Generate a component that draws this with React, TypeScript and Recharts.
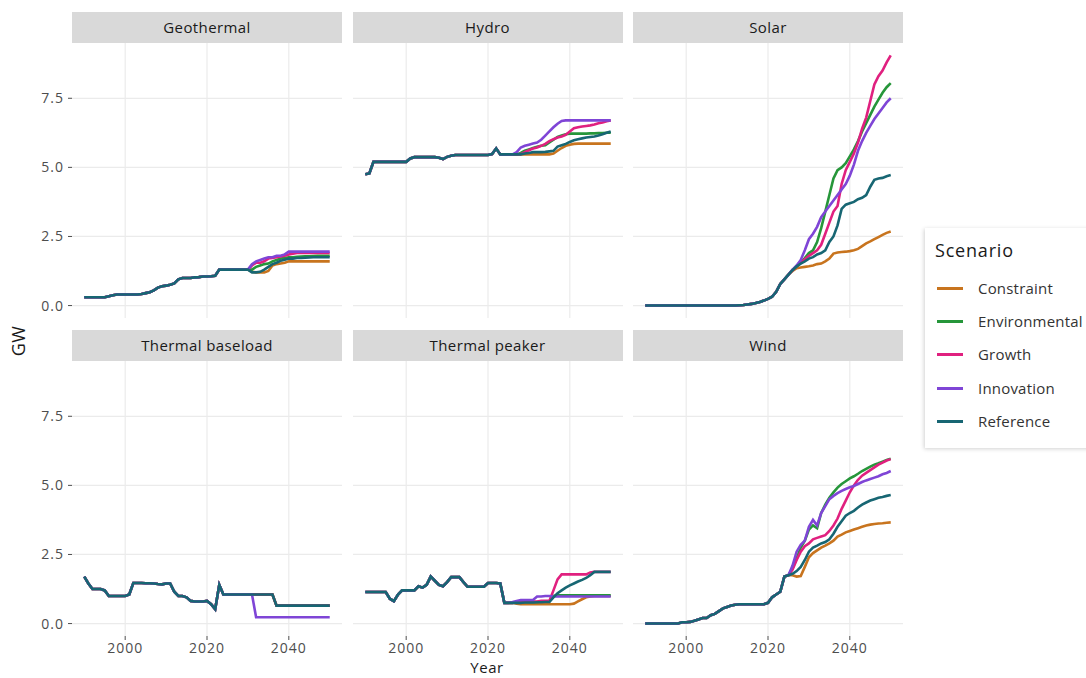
import React from 'react';
import { LineChart, Line, XAxis, YAxis, CartesianGrid } from 'recharts';

// x categories: 1990..2050, one point per year
const YEARS = [
  1990, 1991, 1992, 1993, 1994, 1995, 1996, 1997, 1998, 1999,
  2000, 2001, 2002, 2003, 2004, 2005, 2006, 2007, 2008, 2009,
  2010, 2011, 2012, 2013, 2014, 2015, 2016, 2017, 2018, 2019,
  2020, 2021, 2022, 2023, 2024, 2025, 2026, 2027, 2028, 2029,
  2030, 2031, 2032, 2033, 2034, 2035, 2036, 2037, 2038, 2039,
  2040, 2041, 2042, 2043, 2044, 2045, 2046, 2047, 2048, 2049, 2050,
];

const SCENARIOS = ['Constraint', 'Environmental', 'Growth', 'Innovation', 'Reference'];
const COLORS = ['#c8741e', '#26963a', '#e0207f', '#7f45d6', '#176673'];

const X_TICKS = [2000, 2020, 2040];
const Y_TICKS = [0, 2.5, 5, 7.5];

// shared history 1990-2025, then one array per scenario for 2026-2050

// Geothermal
const geoHist = [
  0.3, 0.3, 0.3, 0.3, 0.3, 0.3, 0.34, 0.37, 0.4, 0.4,
  0.4, 0.4, 0.4, 0.4, 0.42, 0.45, 0.48, 0.55, 0.65, 0.7,
  0.72, 0.75, 0.8, 0.95, 1.0, 1.0, 1.0, 1.02, 1.03, 1.05,
  1.05, 1.06, 1.08, 1.3, 1.3, 1.3,
];
const geoConstraint = [1.3, 1.3, 1.3, 1.3, 1.3, 1.22, 1.2, 1.2, 1.2, 1.25, 1.45, 1.5, 1.52, 1.55, 1.6, 1.6, 1.6, 1.6, 1.6, 1.6, 1.6, 1.6, 1.6, 1.6, 1.6];
const geoEnvironmental = [1.3, 1.3, 1.3, 1.3, 1.3, 1.3, 1.4, 1.45, 1.5, 1.52, 1.6, 1.65, 1.7, 1.72, 1.75, 1.75, 1.76, 1.77, 1.78, 1.78, 1.79, 1.8, 1.8, 1.8, 1.8];
const geoGrowth = [1.3, 1.3, 1.3, 1.3, 1.3, 1.45, 1.55, 1.55, 1.6, 1.7, 1.72, 1.75, 1.78, 1.8, 1.85, 1.88, 1.9, 1.9, 1.9, 1.9, 1.9, 1.9, 1.9, 1.9, 1.9];
const geoInnovation = [1.3, 1.3, 1.3, 1.3, 1.3, 1.5, 1.6, 1.65, 1.7, 1.75, 1.75, 1.8, 1.8, 1.85, 1.95, 1.95, 1.95, 1.95, 1.95, 1.95, 1.95, 1.95, 1.95, 1.95, 1.95];
const geoReference = [1.3, 1.3, 1.3, 1.3, 1.3, 1.2, 1.2, 1.22, 1.3, 1.4, 1.5, 1.55, 1.62, 1.66, 1.7, 1.7, 1.72, 1.72, 1.73, 1.74, 1.75, 1.75, 1.75, 1.75, 1.75];

// Hydro
const hydroHist = [
  4.75, 4.78, 5.2, 5.2, 5.2, 5.2, 5.2, 5.2, 5.2, 5.2,
  5.2, 5.32, 5.37, 5.37, 5.37, 5.37, 5.37, 5.37, 5.35, 5.3,
  5.38, 5.42, 5.45, 5.45, 5.45, 5.45, 5.45, 5.45, 5.45, 5.45,
  5.45, 5.48, 5.68, 5.47, 5.47, 5.47,
];
const hydroConstraint = [5.47, 5.47, 5.47, 5.47, 5.47, 5.47, 5.47, 5.47, 5.47, 5.47, 5.5, 5.6, 5.7, 5.78, 5.82, 5.85, 5.86, 5.86, 5.86, 5.86, 5.86, 5.86, 5.86, 5.86, 5.86];
const hydroEnvironmental = [5.47, 5.47, 5.52, 5.6, 5.65, 5.7, 5.75, 5.78, 5.8, 5.9, 6.0, 6.1, 6.15, 6.2, 6.22, 6.22, 6.22, 6.22, 6.22, 6.23, 6.23, 6.24, 6.24, 6.25, 6.25];
const hydroGrowth = [5.47, 5.47, 5.48, 5.55, 5.62, 5.68, 5.72, 5.78, 5.85, 5.95, 6.02, 6.08, 6.12, 6.18, 6.3, 6.42, 6.45, 6.48, 6.5, 6.52, 6.55, 6.6, 6.62, 6.67, 6.7];
const hydroInnovation = [5.47, 5.55, 5.72, 5.78, 5.82, 5.86, 5.9, 6.0, 6.15, 6.3, 6.45, 6.58, 6.68, 6.7, 6.7, 6.7, 6.7, 6.7, 6.7, 6.7, 6.7, 6.7, 6.7, 6.7, 6.7];
const hydroReference = [5.47, 5.47, 5.47, 5.5, 5.52, 5.55, 5.55, 5.55, 5.56, 5.58, 5.6, 5.75, 5.8, 5.85, 5.92, 5.98, 6.02, 6.05, 6.08, 6.1, 6.12, 6.15, 6.2, 6.25, 6.3];

// Solar
const solarHist = [
  0, 0, 0, 0, 0, 0, 0, 0, 0, 0,
  0, 0, 0, 0, 0, 0, 0, 0, 0, 0,
  0, 0, 0, 0.01, 0.02, 0.04, 0.06, 0.09, 0.13, 0.18,
  0.24, 0.32, 0.5, 0.78, 0.95, 1.12,
];
const solarConstraint = [1.25, 1.35, 1.38, 1.4, 1.42, 1.45, 1.5, 1.52, 1.6, 1.7, 1.88, 1.92, 1.94, 1.95, 1.97, 2.0, 2.05, 2.15, 2.25, 2.32, 2.4, 2.48, 2.56, 2.63, 2.68];
const solarEnvironmental = [1.3, 1.4, 1.55, 1.72, 1.9, 2.0, 2.3, 2.8, 3.4, 4.0, 4.6, 4.9, 5.0, 5.15, 5.4, 5.65, 5.95, 6.3, 6.6, 6.9, 7.2, 7.45, 7.7, 7.9, 8.05];
const solarGrowth = [1.28, 1.42, 1.55, 1.68, 1.8, 1.9, 2.0, 2.2, 2.6, 3.0, 3.4, 3.6, 4.4, 4.9, 5.2, 5.5, 5.9, 6.4, 6.8, 7.4, 8.0, 8.3, 8.5, 8.8, 9.05];
const solarInnovation = [1.3, 1.45, 1.65, 2.0, 2.4, 2.6, 2.85, 3.2, 3.4, 3.6, 3.8, 4.0, 4.2, 4.4, 4.7, 5.1, 5.6, 5.95, 6.25, 6.5, 6.75, 6.95, 7.15, 7.35, 7.5];
const solarReference = [1.28, 1.42, 1.52, 1.6, 1.7, 1.75, 1.85, 1.9, 2.0, 2.3, 2.5, 2.9, 3.5, 3.65, 3.7, 3.75, 3.85, 3.9, 4.0, 4.3, 4.55, 4.6, 4.62, 4.68, 4.72];

// Thermal baseload
const baseHist = [
  1.7, 1.45, 1.25, 1.25, 1.25, 1.2, 1.0, 1.0, 1.0, 1.0,
  1.0, 1.05, 1.47, 1.47, 1.47, 1.46, 1.46, 1.45, 1.43, 1.42,
  1.45, 1.45, 1.15, 1.0, 1.0, 0.95, 0.82, 0.8, 0.8, 0.8,
  0.82, 0.7, 0.52, 1.4, 1.05, 1.05,
];
const baseConstraint = [1.05, 1.05, 1.05, 1.05, 1.05, 1.05, 1.05, 1.05, 1.05, 1.05, 1.05, 0.65, 0.65, 0.65, 0.65, 0.65, 0.65, 0.65, 0.65, 0.65, 0.65, 0.65, 0.65, 0.65, 0.65];
const baseEnvironmental = [1.05, 1.05, 1.05, 1.05, 1.05, 1.05, 1.05, 1.05, 1.05, 1.05, 1.05, 0.65, 0.65, 0.65, 0.65, 0.65, 0.65, 0.65, 0.65, 0.65, 0.65, 0.65, 0.65, 0.65, 0.65];
const baseGrowth = [1.05, 1.05, 1.05, 1.05, 1.05, 1.05, 1.05, 1.05, 1.05, 1.05, 1.05, 0.65, 0.65, 0.65, 0.65, 0.65, 0.65, 0.65, 0.65, 0.65, 0.65, 0.65, 0.65, 0.65, 0.65];
const baseInnovation = [1.05, 1.05, 1.05, 1.05, 1.05, 1.05, 0.23, 0.23, 0.23, 0.23, 0.23, 0.23, 0.23, 0.23, 0.23, 0.23, 0.23, 0.23, 0.23, 0.23, 0.23, 0.23, 0.23, 0.23, 0.23];
const baseReference = [1.05, 1.05, 1.05, 1.05, 1.05, 1.05, 1.05, 1.05, 1.05, 1.05, 1.05, 0.65, 0.65, 0.65, 0.65, 0.65, 0.65, 0.65, 0.65, 0.65, 0.65, 0.65, 0.65, 0.65, 0.65];

// Thermal peaker
const peakHist = [
  1.14, 1.14, 1.14, 1.14, 1.14, 1.14, 0.9, 0.81, 1.05, 1.2,
  1.2, 1.2, 1.2, 1.35, 1.3, 1.4, 1.7, 1.55, 1.4, 1.35,
  1.5, 1.68, 1.68, 1.68, 1.5, 1.33, 1.33, 1.33, 1.33, 1.33,
  1.47, 1.47, 1.47, 1.45, 0.75, 0.75,
];
const peakConstraint = [0.75, 0.72, 0.7, 0.7, 0.7, 0.7, 0.7, 0.7, 0.7, 0.7, 0.7, 0.7, 0.7, 0.7, 0.7, 0.72, 0.8, 0.88, 0.95, 0.98, 1.0, 1.0, 1.0, 1.0, 1.0];
const peakEnvironmental = [0.75, 0.78, 0.78, 0.78, 0.78, 0.78, 0.78, 0.8, 0.8, 0.8, 1.0, 1.02, 1.02, 1.02, 1.02, 1.02, 1.02, 1.02, 1.02, 1.02, 1.02, 1.02, 1.02, 1.02, 1.02];
const peakGrowth = [0.75, 0.78, 0.8, 0.8, 0.8, 0.8, 0.8, 0.82, 0.82, 0.82, 1.2, 1.6, 1.78, 1.78, 1.78, 1.78, 1.78, 1.78, 1.78, 1.85, 1.87, 1.87, 1.87, 1.87, 1.87];
const peakInnovation = [0.78, 0.82, 0.85, 0.85, 0.85, 0.85, 0.98, 0.98, 1.0, 1.0, 0.98, 0.98, 0.98, 0.98, 0.98, 0.98, 0.98, 0.98, 0.98, 0.98, 0.98, 0.98, 0.98, 0.98, 0.98];
const peakReference = [0.75, 0.75, 0.75, 0.76, 0.76, 0.76, 0.77, 0.77, 0.78, 0.78, 0.95, 1.1, 1.2, 1.3, 1.38, 1.45, 1.52, 1.58, 1.65, 1.75, 1.87, 1.87, 1.87, 1.87, 1.87];

// Wind
const windHist = [
  0, 0, 0, 0, 0, 0, 0, 0, 0, 0.05,
  0.05, 0.06, 0.1, 0.15, 0.2, 0.2, 0.3, 0.35, 0.45, 0.55,
  0.6, 0.65, 0.68, 0.7, 0.7, 0.7, 0.7, 0.7, 0.7, 0.7,
  0.75, 0.95, 1.05, 1.15, 1.7, 1.75,
];
const windConstraint = [1.75, 1.7, 1.72, 2.05, 2.4, 2.55, 2.65, 2.75, 2.82, 2.9, 3.0, 3.15, 3.22, 3.3, 3.35, 3.4, 3.45, 3.5, 3.55, 3.58, 3.6, 3.62, 3.63, 3.65, 3.66];
const windEnvironmental = [2.0, 2.35, 2.75, 3.0, 3.4, 3.55, 3.45, 4.0, 4.3, 4.55, 4.75, 4.92, 5.05, 5.15, 5.25, 5.33, 5.42, 5.52, 5.6, 5.68, 5.75, 5.8, 5.86, 5.92, 5.96];
const windGrowth = [1.95, 2.3, 2.6, 2.8, 2.9, 3.05, 3.1, 3.15, 3.2, 3.35, 3.55, 3.8, 4.15, 4.45, 4.75, 5.0, 5.2, 5.35, 5.45, 5.55, 5.65, 5.75, 5.82, 5.9, 5.95];
const windInnovation = [2.1, 2.6, 2.85, 3.0, 3.5, 3.75, 3.55, 4.0, 4.25, 4.5, 4.62, 4.72, 4.8, 4.87, 4.93, 4.98, 5.05, 5.12, 5.18, 5.23, 5.28, 5.33, 5.4, 5.45, 5.52];
const windReference = [1.8, 1.9, 2.05, 2.3, 2.6, 2.75, 2.82, 2.9, 2.95, 3.05, 3.25, 3.5, 3.7, 3.9, 4.0, 4.08, 4.2, 4.3, 4.38, 4.45, 4.5, 4.55, 4.58, 4.62, 4.65];

const PANELS = [
  { title: 'Geothermal', hist: geoHist, runs: [geoConstraint, geoEnvironmental, geoGrowth, geoInnovation, geoReference] },
  { title: 'Hydro', hist: hydroHist, runs: [hydroConstraint, hydroEnvironmental, hydroGrowth, hydroInnovation, hydroReference] },
  { title: 'Solar', hist: solarHist, runs: [solarConstraint, solarEnvironmental, solarGrowth, solarInnovation, solarReference] },
  { title: 'Thermal baseload', hist: baseHist, runs: [baseConstraint, baseEnvironmental, baseGrowth, baseInnovation, baseReference] },
  { title: 'Thermal peaker', hist: peakHist, runs: [peakConstraint, peakEnvironmental, peakGrowth, peakInnovation, peakReference] },
  { title: 'Wind', hist: windHist, runs: [windConstraint, windEnvironmental, windGrowth, windInnovation, windReference] },
];

const buildRows = (hist: number[], runs: number[][]) =>
  YEARS.map((year, i) => {
    const row: Record<string, number> = { year };
    SCENARIOS.forEach((s, k) => {
      row[s] = i < hist.length ? hist[i] : runs[k][i - hist.length];
    });
    return row;
  });

// layout
const PANEL_W = 270;
const PANEL_H = 275;
const STRIP_H = 31;
const COL_X = [72, 352.5, 633];
const ROW_Y = [43, 361];
const Y_AXIS_W = 64;
const X_AXIS_H = 24;
const FONT = '"Open Sans", "Noto Sans", sans-serif';

const tickStyle = { fill: '#4d4d4d', fontSize: 14, fontFamily: FONT, letterSpacing: 1 };
// inner facets keep their ticks (so the grid follows them) but draw no label
const NoTick = () => <g />;

const Panel = ({ panel, col, row }: { panel: typeof PANELS[number]; col: number; row: number }) => {
  const showY = col === 0;
  const showX = row === 1;
  const yW = showY ? Y_AXIS_W : 0;
  const xH = showX ? X_AXIS_H : 0;
  const rows = buildRows(panel.hist, panel.runs);

  return (
    <>
      <div
        style={{
          position: 'absolute',
          left: COL_X[col],
          top: ROW_Y[row] - STRIP_H,
          width: PANEL_W,
          height: STRIP_H,
          background: '#d9d9d9',
          color: '#1a1a1a',
          fontSize: 15,
          letterSpacing: 0.4,
          lineHeight: `${STRIP_H}px`,
          textAlign: 'center',
        }}
      >
        {panel.title}
      </div>
      <div style={{ position: 'absolute', left: COL_X[col] - yW, top: ROW_Y[row] }}>
        <LineChart width={PANEL_W + yW} height={PANEL_H + xH} data={rows} margin={{ top: 0, right: 0, bottom: 0, left: 0 }}>
          <CartesianGrid stroke="#ebebeb" strokeWidth={1.2} syncWithTicks />
          <XAxis
            dataKey="year"
            type="number"
            domain={[1987, 2053]}
            allowDataOverflow
            ticks={X_TICKS}
            height={xH}
            axisLine={false}
            tickLine={showX ? { stroke: '#4d4d4d' } : false}
            tick={showX ? tickStyle : NoTick}
            tickSize={4}
            tickMargin={3}
          />
          <YAxis
            type="number"
            domain={[-0.45, 9.5]}
            allowDataOverflow
            ticks={Y_TICKS}
            width={yW}
            axisLine={false}
            tickLine={showY ? { stroke: '#4d4d4d' } : false}
            tick={showY ? tickStyle : NoTick}
            tickSize={4}
            tickMargin={4}
            tickFormatter={(v: number) => v.toFixed(1)}
          />
          {SCENARIOS.map((s, k) => (
            <Line
              key={s}
              dataKey={s}
              type="linear"
              stroke={COLORS[k]}
              strokeWidth={2.6}
              dot={false}
              isAnimationActive={false}
            />
          ))}
        </LineChart>
      </div>
    </>
  );
};

const LegendBox = () => (
  <div
    style={{
      position: 'absolute',
      left: 925,
      top: 228,
      width: 200,
      height: 220,
      background: '#fff',
      boxShadow: '-1px 1px 4px rgba(0,0,0,0.18)',
    }}
  >
    <div style={{ position: 'absolute', left: 10, top: 10, fontSize: 18, letterSpacing: 0.8, color: '#1a1a1a' }}>Scenario</div>
    {SCENARIOS.map((s, k) => (
      <div key={s} style={{ position: 'absolute', left: 0, top: 48 + k * 33.2, height: 24, width: 160 }}>
        <div style={{ position: 'absolute', left: 12, top: 11, width: 26, height: 3, background: COLORS[k] }} />
        <div style={{ position: 'absolute', left: 53, top: 0, fontSize: 15, letterSpacing: 0.2, lineHeight: '24px', color: '#333', whiteSpace: 'nowrap' }}>
          {s}
        </div>
      </div>
    ))}
  </div>
);

export default function App() {
  return (
    <div
      style={{
        position: 'absolute',
        left: 0,
        top: 0,
        width: 1086,
        height: 678,
        overflow: 'hidden',
        background: '#fff',
        fontFamily: FONT,
      }}
    >
      {PANELS.map((p, i) => (
        <Panel key={p.title} panel={p} col={i % 3} row={Math.floor(i / 3)} />
      ))}
      <div
        style={{
          position: 'absolute',
          left: 18,
          top: 341,
          transform: 'translate(-50%, -50%) rotate(-90deg)',
          fontSize: 18,
          letterSpacing: 0.5,
          lineHeight: 1,
          color: '#1a1a1a',
        }}
      >
        GW
      </div>
      <div
        style={{
          position: 'absolute',
          left: 487,
          top: 667,
          transform: 'translate(-50%, -50%)',
          fontSize: 15,
          letterSpacing: 0.5,
          lineHeight: 1,
          color: '#1a1a1a',
        }}
      >
        Year
      </div>
      <LegendBox />
    </div>
  );
}
